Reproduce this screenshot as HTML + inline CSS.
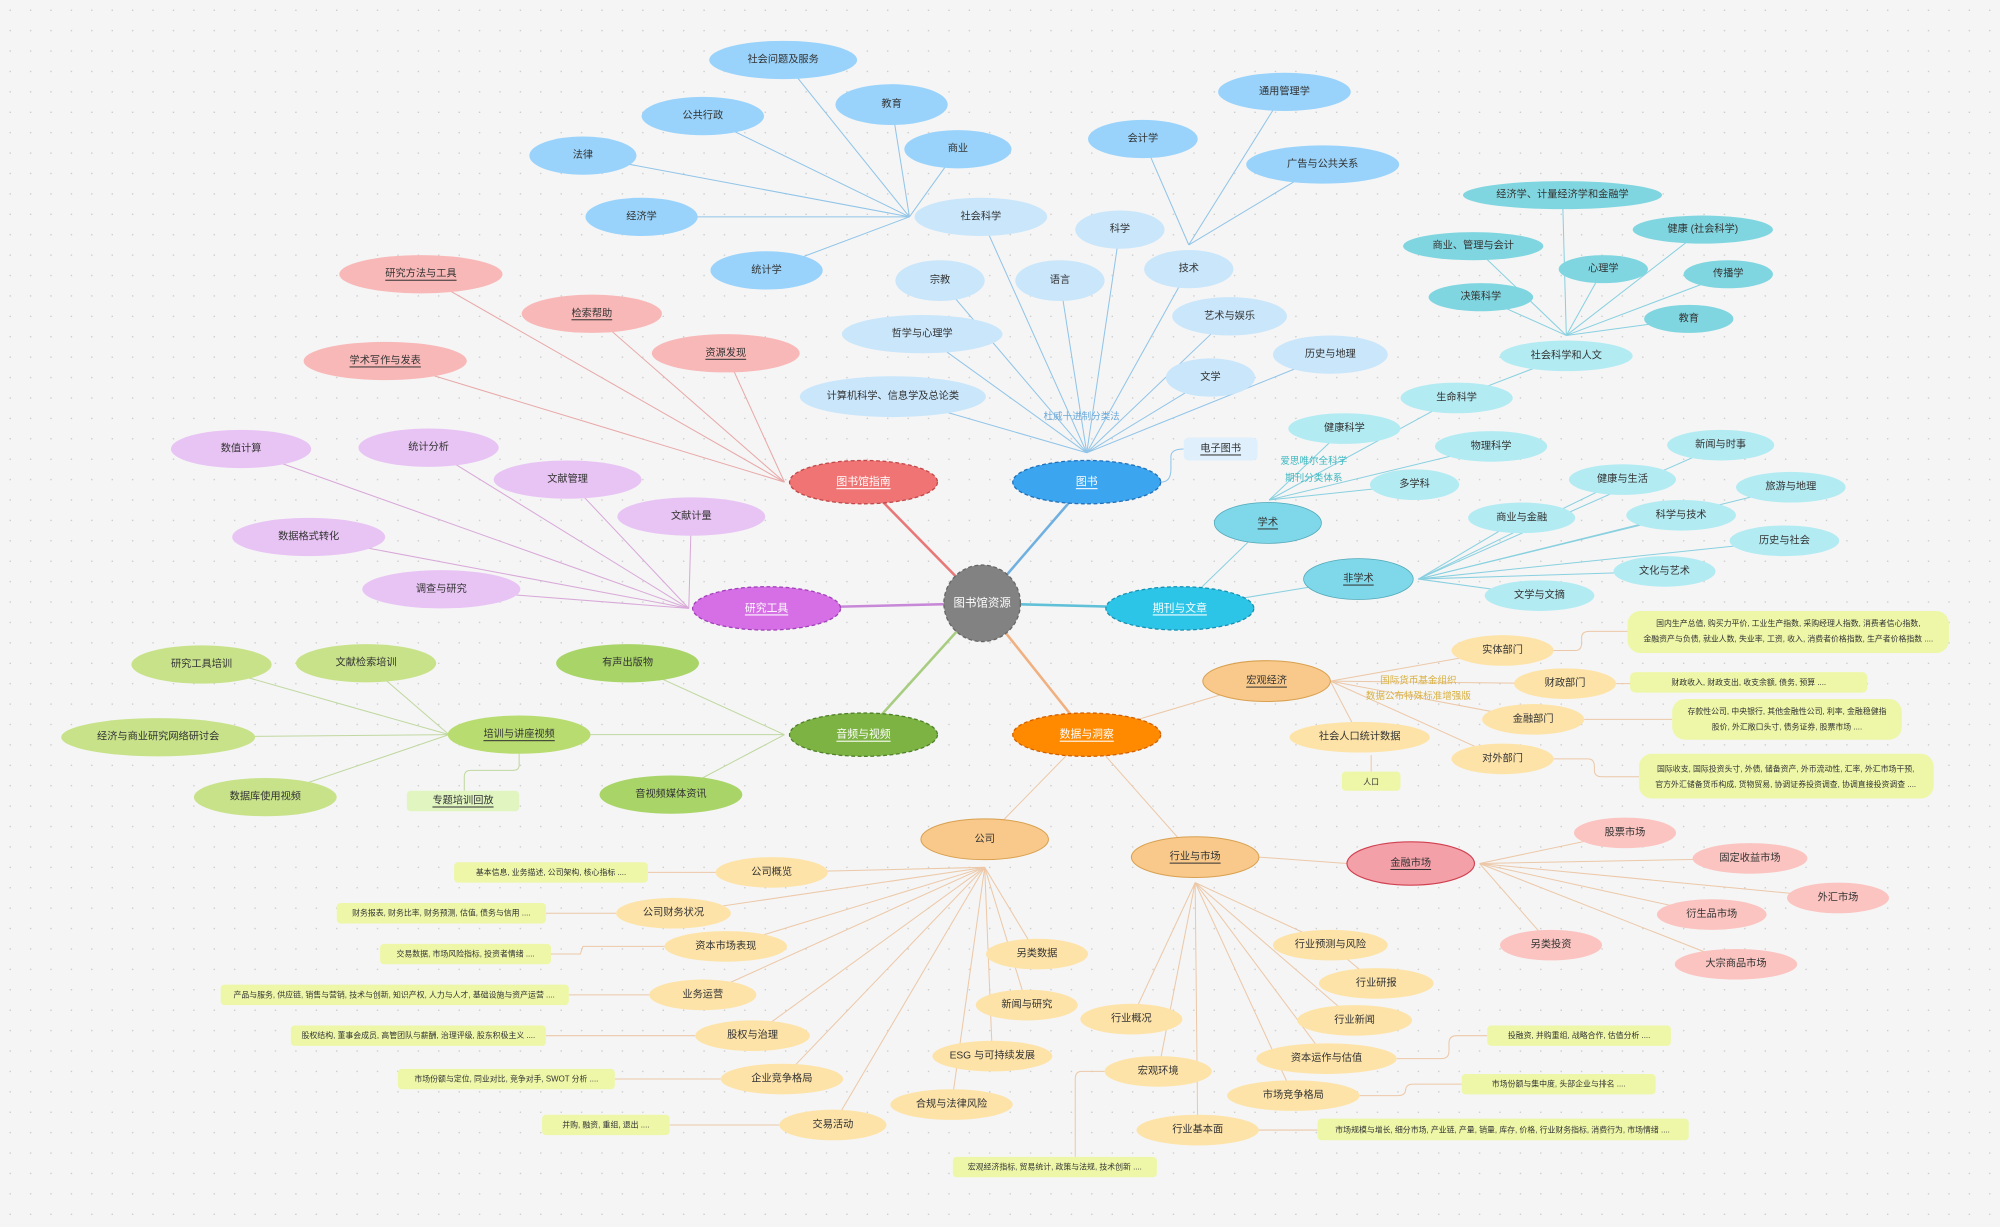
<!DOCTYPE html>
<html><head><meta charset="utf-8">
<style>
html,body{margin:0;padding:0;background:#f5f5f5;}
svg{display:block;}
text{font-family:"Liberation Sans","Noto Sans CJK SC",sans-serif;font-size:8px;fill:#333;text-anchor:middle;dominant-baseline:central;}
.w{fill:#fff;text-decoration:underline;font-size:8.5px;}
.u{text-decoration:underline;}
.s{font-size:6.2px;}
.l{fill:none;stroke-width:0.8;}
</style></head><body>
<svg width="2000" height="1227" viewBox="0 0 1568 962" preserveAspectRatio="none" xmlns="http://www.w3.org/2000/svg">
<defs><pattern id="d" width="16" height="16" patternUnits="userSpaceOnUse"><circle cx="8" cy="8" r="0.6" fill="#c8c8c8"/></pattern></defs>
<rect width="1568" height="962" fill="#f5f5f5"/>
<rect width="1568" height="962" fill="url(#d)"/>

<!-- main edges -->
<g fill="none" stroke-width="2">
<line x1="770" y1="473" x2="677" y2="378" stroke="#e87878"/>
<line x1="770" y1="473" x2="600" y2="477" stroke="#c888d8"/>
<line x1="770" y1="473" x2="852" y2="378" stroke="#70b0e0"/>
<line x1="770" y1="473" x2="925" y2="477" stroke="#60c0d8"/>
<line x1="770" y1="473" x2="852" y2="576" stroke="#f0b080"/>
<line x1="770" y1="473" x2="677" y2="576" stroke="#a8cc80"/>
</g>

<!-- library guide -->
<g class="l" stroke="#e8a8a8">
<line x1="615" y1="378" x2="330" y2="215"/><line x1="615" y1="378" x2="464" y2="246"/><line x1="615" y1="378" x2="569" y2="277"/><line x1="615" y1="378" x2="302" y2="283"/>
</g>
<!-- research tools -->
<g class="l" stroke="#d8a8d8">
<line x1="540" y1="477" x2="189" y2="352"/><line x1="540" y1="477" x2="336" y2="351"/><line x1="540" y1="477" x2="445" y2="376"/><line x1="540" y1="477" x2="542" y2="405"/><line x1="540" y1="477" x2="242" y2="421"/><line x1="540" y1="477" x2="346" y2="462"/>
</g>
<!-- books -->
<g class="l" stroke="#90c4e8">
<line x1="852" y1="355" x2="769" y2="170"/><line x1="852" y1="355" x2="737" y2="220"/><line x1="852" y1="355" x2="831" y2="220"/><line x1="852" y1="355" x2="878" y2="180"/><line x1="852" y1="355" x2="932" y2="211"/><line x1="852" y1="355" x2="723" y2="262"/><line x1="852" y1="355" x2="964" y2="248"/><line x1="852" y1="355" x2="700" y2="311"/><line x1="852" y1="355" x2="949" y2="296"/><line x1="852" y1="355" x2="1043" y2="278"/>
<line x1="713" y1="170" x2="614" y2="47"/><line x1="713" y1="170" x2="699" y2="82"/><line x1="713" y1="170" x2="551" y2="91"/><line x1="713" y1="170" x2="751" y2="117"/><line x1="713" y1="170" x2="457" y2="122"/><line x1="713" y1="170" x2="503" y2="170"/><line x1="713" y1="170" x2="601" y2="212"/>
<line x1="932" y1="192" x2="896" y2="109"/><line x1="932" y1="192" x2="1007" y2="72"/><line x1="932" y1="192" x2="1037" y2="129"/>
<path d="M910 378 Q918 378 918 368 L918 358 Q918 352 928 352"/>
</g>
<!-- journals -->
<g class="l" stroke="#88d0e0">
<line x1="925" y1="477" x2="994" y2="410"/><line x1="925" y1="477" x2="1065" y2="454"/>
<line x1="995" y1="392" x2="1054" y2="336"/><line x1="995" y1="392" x2="1142" y2="312"/><line x1="995" y1="392" x2="1169" y2="350"/><line x1="995" y1="392" x2="1109" y2="380"/><line x1="1142" y1="312" x2="1228" y2="279"/>
<line x1="1228" y1="263" x2="1225" y2="153"/><line x1="1228" y1="263" x2="1155" y2="193"/><line x1="1228" y1="263" x2="1335" y2="180"/><line x1="1228" y1="263" x2="1257" y2="211"/><line x1="1228" y1="263" x2="1355" y2="215"/><line x1="1228" y1="263" x2="1161" y2="233"/><line x1="1228" y1="263" x2="1324" y2="250"/>
<line x1="1112" y1="454" x2="1349" y2="349"/><line x1="1112" y1="454" x2="1272" y2="376"/><line x1="1112" y1="454" x2="1404" y2="382"/><line x1="1112" y1="454" x2="1193" y2="406"/><line x1="1112" y1="454" x2="1318" y2="404"/><line x1="1112" y1="454" x2="1399" y2="424"/><line x1="1112" y1="454" x2="1305" y2="448"/><line x1="1112" y1="454" x2="1207" y2="467"/>
</g>
<!-- data & insight -->
<g class="l" stroke="#ecc8a8">
<line x1="852" y1="576" x2="993" y2="534"/><line x1="852" y1="576" x2="937" y2="672"/><line x1="852" y1="576" x2="772" y2="658"/>
<line x1="1043" y1="534" x2="1178" y2="510"/><line x1="1043" y1="534" x2="1227" y2="536"/><line x1="1043" y1="534" x2="1202" y2="564"/><line x1="1043" y1="534" x2="1178" y2="595"/><line x1="1043" y1="534" x2="1066" y2="578"/>
<line x1="1075" y1="592" x2="1075" y2="605"/>
<path d="M1218 510 L1235 510 Q1240 510 1240 504 L1240 500 Q1240 495 1246 495 L1276 495"/>
<path d="M1267 536 L1280 536 Q1285 536 1285 532 Q1285 535 1290 535 L1278 535"/>
<line x1="1242" y1="564" x2="1311" y2="564"/>
<path d="M1218 595 L1245 595 Q1250 595 1250 601 L1250 604 Q1250 609 1256 609 L1285 609"/>
<line x1="987" y1="672" x2="1056" y2="677"/>
<line x1="1160" y1="677" x2="1274" y2="653"/><line x1="1160" y1="677" x2="1372" y2="673"/><line x1="1160" y1="677" x2="1441" y2="704"/><line x1="1160" y1="677" x2="1342" y2="717"/><line x1="1160" y1="677" x2="1216" y2="741"/><line x1="1160" y1="677" x2="1361" y2="756"/>
<line x1="937" y1="692" x2="1043" y2="741"/><line x1="1043" y1="741" x2="1079" y2="771"/><line x1="937" y1="692" x2="887" y2="799"/><line x1="937" y1="692" x2="1062" y2="800"/><line x1="937" y1="692" x2="1040" y2="830"/><line x1="937" y1="692" x2="908" y2="840"/><line x1="937" y1="692" x2="1014" y2="859"/><line x1="937" y1="692" x2="939" y2="886"/>
<path d="M1095 830 L1130 830 Q1136 830 1136 824 L1136 818 Q1136 812 1142 812 L1166 812"/>
<path d="M1066 859 L1096 859 Q1102 859 1102 854 L1102 855 Q1102 850 1108 850 L1146 850"/>
<line x1="987" y1="886" x2="1033" y2="886"/>
<path d="M866 840 L848 840 Q843 840 843 846 L843 907"/>
<line x1="772" y1="680" x2="605" y2="684"/><line x1="772" y1="680" x2="528" y2="716"/><line x1="772" y1="680" x2="569" y2="742"/><line x1="772" y1="680" x2="551" y2="780"/><line x1="772" y1="680" x2="590" y2="812"/><line x1="772" y1="680" x2="613" y2="846"/><line x1="772" y1="680" x2="653" y2="882"/><line x1="772" y1="680" x2="813" y2="748"/><line x1="772" y1="680" x2="805" y2="788"/><line x1="772" y1="680" x2="778" y2="828"/><line x1="772" y1="680" x2="746" y2="866"/>
<line x1="508" y1="684" x2="561" y2="684"/><line x1="428" y1="716" x2="483" y2="716"/><path d="M432 748 L455 748 L457 742 L521 742"/><line x1="446" y1="780" x2="509" y2="780"/><line x1="428" y1="812" x2="545" y2="812"/><line x1="482" y1="846" x2="565" y2="846"/><line x1="525" y1="882" x2="611" y2="882"/>
</g>
<!-- audio video -->
<g class="l" stroke="#c0d8a0">
<line x1="615" y1="576" x2="492" y2="520"/><line x1="615" y1="576" x2="407" y2="576"/><line x1="615" y1="576" x2="526" y2="623"/>
<line x1="352" y1="576" x2="158" y2="521"/><line x1="352" y1="576" x2="287" y2="520"/><line x1="352" y1="576" x2="124" y2="578"/><line x1="352" y1="576" x2="208" y2="625"/>
<path d="M407 591 L407 600 Q407 604 402 604 L369 604 Q364 604 364 609 L364 620"/>
</g>

<!-- labels on edges -->
<text x="848" y="327" style="fill:#6aa8d8;font-size:7.5px">杜威十进制分类法</text>
<text x="1030" y="362" style="fill:#3cb8c0;font-size:7.5px">爱思唯尔全科学</text>
<text x="1030" y="375" style="fill:#3cb8c0;font-size:7.5px">期刊分类体系</text>
<text x="1112" y="534" style="fill:#d8b040;font-size:7.5px">国际货币基金组织</text>
<text x="1112" y="546" style="fill:#d8b040;font-size:7.5px">数据公布特殊标准增强版</text>

<!-- center -->
<circle cx="770" cy="473" r="30" fill="#828282" stroke="#666" stroke-dasharray="3 2"/>
<text x="770" y="473" style="fill:#fff;font-size:9px">图书馆资源</text>

<!-- level1 -->
<g stroke-dasharray="3 2" stroke-width="1">
<ellipse cx="677" cy="378" rx="58" ry="17" fill="#f07474" stroke="#c04848"/>
<ellipse cx="601" cy="477" rx="58" ry="17" fill="#d66ee6" stroke="#a040b8"/>
<ellipse cx="852" cy="378" rx="58" ry="17" fill="#3ba5f0" stroke="#2070b8"/>
<ellipse cx="925" cy="477" rx="58" ry="17" fill="#2cc5e8" stroke="#1890b0"/>
<ellipse cx="852" cy="576" rx="58" ry="17" fill="#ff8a00" stroke="#d06000"/>
<ellipse cx="677" cy="576" rx="58" ry="17" fill="#7cb342" stroke="#50802a"/>
</g>
<text class="w" x="677" y="378">图书馆指南</text>
<text class="w" x="601" y="477">研究工具</text>
<text class="w" x="852" y="378">图书</text>
<text class="w" x="925" y="477">期刊与文章</text>
<text class="w" x="852" y="576">数据与洞察</text>
<text class="w" x="677" y="576">音频与视频</text>

<!-- library guide children -->
<g fill="#f9b8b8">
<ellipse cx="330" cy="215" rx="64" ry="15"/><ellipse cx="464" cy="246" rx="55" ry="15"/><ellipse cx="569" cy="277" rx="58" ry="15"/><ellipse cx="302" cy="283" rx="64" ry="15"/>
</g>
<text class="u" x="330" y="215">研究方法与工具</text><text class="u" x="464" y="246">检索帮助</text><text class="u" x="569" y="277">资源发现</text><text class="u" x="302" y="283">学术写作与发表</text>

<!-- research tools children -->
<g fill="#e8c4f4">
<ellipse cx="189" cy="352" rx="55" ry="15"/><ellipse cx="336" cy="351" rx="55" ry="15"/><ellipse cx="445" cy="376" rx="58" ry="15"/><ellipse cx="542" cy="405" rx="58" ry="15"/><ellipse cx="242" cy="421" rx="60" ry="15"/><ellipse cx="346" cy="462" rx="62" ry="15"/>
</g>
<text x="189" y="352">数值计算</text><text x="336" y="351">统计分析</text><text x="445" y="376">文献管理</text><text x="542" y="405">文献计量</text><text x="242" y="421">数据格式转化</text><text x="346" y="462">调查与研究</text>

<!-- books children -->
<g fill="#c9e6fb">
<ellipse cx="769" cy="170" rx="52" ry="15"/><ellipse cx="737" cy="220" rx="35" ry="16"/><ellipse cx="831" cy="220" rx="35" ry="16"/><ellipse cx="878" cy="180" rx="35" ry="15"/><ellipse cx="932" cy="211" rx="35" ry="15"/><ellipse cx="723" cy="262" rx="63" ry="15"/><ellipse cx="964" cy="248" rx="45" ry="15"/><ellipse cx="700" cy="311" rx="73" ry="16"/><ellipse cx="949" cy="296" rx="35" ry="15"/><ellipse cx="1043" cy="278" rx="45" ry="15"/>
</g>
<text x="769" y="170">社会科学</text><text x="737" y="220">宗教</text><text x="831" y="220">语言</text><text x="878" y="180">科学</text><text x="932" y="211">技术</text><text x="723" y="262">哲学与心理学</text><text x="964" y="248">艺术与娱乐</text><text x="700" y="311">计算机科学、信息学及总论类</text><text x="949" y="296">文学</text><text x="1043" y="278">历史与地理</text>
<g fill="#99d3fb">
<ellipse cx="614" cy="47" rx="58" ry="15"/><ellipse cx="699" cy="82" rx="44" ry="16"/><ellipse cx="551" cy="91" rx="48" ry="15"/><ellipse cx="751" cy="117" rx="42" ry="15"/><ellipse cx="457" cy="122" rx="42" ry="15"/><ellipse cx="503" cy="170" rx="44" ry="15"/><ellipse cx="601" cy="212" rx="44" ry="15"/>
<ellipse cx="896" cy="109" rx="43" ry="15"/><ellipse cx="1007" cy="72" rx="52" ry="15"/><ellipse cx="1037" cy="129" rx="60" ry="15"/>
</g>
<text x="614" y="47">社会问题及服务</text><text x="699" y="82">教育</text><text x="551" y="91">公共行政</text><text x="751" y="117">商业</text><text x="457" y="122">法律</text><text x="503" y="170">经济学</text><text x="601" y="212">统计学</text><text x="896" y="109">会计学</text><text x="1007" y="72">通用管理学</text><text x="1037" y="129">广告与公共关系</text>
<rect x="928" y="343" width="58" height="18" rx="4" fill="#dff0fc"/><text class="u" x="957" y="352">电子图书</text>

<!-- journals children -->
<ellipse cx="994" cy="410" rx="42" ry="16" fill="#7fd8ea" stroke="#50a8b8" stroke-width="0.6"/><text class="u" x="994" y="410">学术</text>
<ellipse cx="1065" cy="454" rx="43" ry="16" fill="#7fd8ea" stroke="#50a8b8" stroke-width="0.6"/><text class="u" x="1065" y="454">非学术</text>
<g fill="#b3ebf3">
<ellipse cx="1054" cy="336" rx="44" ry="12"/><ellipse cx="1142" cy="312" rx="44" ry="12"/><ellipse cx="1169" cy="350" rx="44" ry="12"/><ellipse cx="1109" cy="380" rx="35" ry="12"/><ellipse cx="1228" cy="279" rx="52" ry="12"/>
<ellipse cx="1349" cy="349" rx="42" ry="12"/><ellipse cx="1272" cy="376" rx="42" ry="12"/><ellipse cx="1404" cy="382" rx="43" ry="12"/><ellipse cx="1193" cy="406" rx="42" ry="12"/><ellipse cx="1318" cy="404" rx="43" ry="12"/><ellipse cx="1399" cy="424" rx="43" ry="12"/><ellipse cx="1305" cy="448" rx="40" ry="12"/><ellipse cx="1207" cy="467" rx="43" ry="12"/>
</g>
<text x="1054" y="336">健康科学</text><text x="1142" y="312">生命科学</text><text x="1169" y="350">物理科学</text><text x="1109" y="380">多学科</text><text x="1228" y="279">社会科学和人文</text>
<text x="1349" y="349">新闻与时事</text><text x="1272" y="376">健康与生活</text><text x="1404" y="382">旅游与地理</text><text x="1193" y="406">商业与金融</text><text x="1318" y="404">科学与技术</text><text x="1399" y="424">历史与社会</text><text x="1305" y="448">文化与艺术</text><text x="1207" y="467">文学与文摘</text>
<g fill="#80d6e0">
<ellipse cx="1225" cy="153" rx="78" ry="11"/><ellipse cx="1155" cy="193" rx="55" ry="11"/><ellipse cx="1335" cy="180" rx="55" ry="11"/><ellipse cx="1257" cy="211" rx="35" ry="11"/><ellipse cx="1355" cy="215" rx="35" ry="11"/><ellipse cx="1161" cy="233" rx="41" ry="11"/><ellipse cx="1324" cy="250" rx="35" ry="11"/>
</g>
<text x="1225" y="153">经济学、计量经济学和金融学</text><text x="1155" y="193">商业、管理与会计</text><text x="1335" y="180">健康 (社会科学)</text><text x="1257" y="211">心理学</text><text x="1355" y="215">传播学</text><text x="1161" y="233">决策科学</text><text x="1324" y="250">教育</text>

<!-- data: macro -->
<ellipse cx="993" cy="534" rx="50" ry="16" fill="#f8c98a" stroke="#d9a050" stroke-width="0.8"/><text class="u" x="993" y="534">宏观经济</text>
<ellipse cx="937" cy="672" rx="50" ry="16" fill="#f8c98a" stroke="#d9a050" stroke-width="0.8"/><text class="u" x="937" y="672">行业与市场</text>
<ellipse cx="772" cy="658" rx="50" ry="16" fill="#f8c98a" stroke="#d9a050" stroke-width="0.8"/><text x="772" y="658">公司</text>
<ellipse cx="1106" cy="677" rx="50" ry="17" fill="#f4a0a8" stroke="#d04050" stroke-width="0.9"/><text class="u" x="1106" y="677">金融市场</text>
<g fill="#fde3a8">
<ellipse cx="1178" cy="510" rx="40" ry="12"/><ellipse cx="1227" cy="536" rx="40" ry="12"/><ellipse cx="1202" cy="564" rx="40" ry="12"/><ellipse cx="1178" cy="595" rx="40" ry="12"/><ellipse cx="1066" cy="578" rx="55" ry="12"/>
<ellipse cx="1043" cy="741" rx="45" ry="12"/><ellipse cx="1079" cy="771" rx="45" ry="12"/><ellipse cx="887" cy="799" rx="40" ry="12"/><ellipse cx="1062" cy="800" rx="45" ry="12"/><ellipse cx="1040" cy="830" rx="55" ry="12"/><ellipse cx="908" cy="840" rx="42" ry="12"/><ellipse cx="1014" cy="859" rx="52" ry="12"/><ellipse cx="939" cy="886" rx="48" ry="12"/>
<ellipse cx="605" cy="684" rx="44" ry="12"/><ellipse cx="528" cy="716" rx="45" ry="12"/><ellipse cx="569" cy="742" rx="48" ry="12"/><ellipse cx="551" cy="780" rx="42" ry="12"/><ellipse cx="590" cy="812" rx="45" ry="12"/><ellipse cx="613" cy="846" rx="48" ry="12"/><ellipse cx="653" cy="882" rx="42" ry="12"/><ellipse cx="813" cy="748" rx="40" ry="12"/><ellipse cx="805" cy="788" rx="40" ry="12"/><ellipse cx="778" cy="828" rx="47" ry="12"/><ellipse cx="746" cy="866" rx="48" ry="12"/>
</g>
<text x="1178" y="510">实体部门</text><text x="1227" y="536">财政部门</text><text x="1202" y="564">金融部门</text><text x="1178" y="595">对外部门</text><text x="1066" y="578">社会人口统计数据</text>
<text x="1043" y="741">行业预测与风险</text><text x="1079" y="771">行业研报</text><text x="887" y="799">行业概况</text><text x="1062" y="800">行业新闻</text><text x="1040" y="830">资本运作与估值</text><text x="908" y="840">宏观环境</text><text x="1014" y="859">市场竞争格局</text><text x="939" y="886">行业基本面</text>
<text x="605" y="684">公司概览</text><text x="528" y="716">公司财务状况</text><text x="569" y="742">资本市场表现</text><text x="551" y="780">业务运营</text><text x="590" y="812">股权与治理</text><text x="613" y="846">企业竞争格局</text><text x="653" y="882">交易活动</text><text x="813" y="748">另类数据</text><text x="805" y="788">新闻与研究</text><text x="778" y="828">ESG 与可持续发展</text><text x="746" y="866">合规与法律风险</text>
<g fill="#fbc4c0">
<ellipse cx="1274" cy="653" rx="40" ry="12"/><ellipse cx="1372" cy="673" rx="45" ry="12"/><ellipse cx="1441" cy="704" rx="40" ry="12"/><ellipse cx="1342" cy="717" rx="43" ry="12"/><ellipse cx="1216" cy="741" rx="40" ry="12"/><ellipse cx="1361" cy="756" rx="48" ry="12"/>
</g>
<text x="1274" y="653">股票市场</text><text x="1372" y="673">固定收益市场</text><text x="1441" y="704">外汇市场</text><text x="1342" y="717">衍生品市场</text><text x="1216" y="741">另类投资</text><text x="1361" y="756">大宗商品市场</text>

<!-- green boxes -->
<g fill="#eef7a8">
<rect x="1276" y="479" width="252" height="33" rx="10"/><rect x="1278" y="527" width="186" height="16" rx="4"/><rect x="1311" y="548" width="180" height="32" rx="10"/><rect x="1285" y="591" width="231" height="35" rx="10"/>
<rect x="1052" y="605" width="46" height="15" rx="3"/>
<rect x="1166" y="804" width="144" height="16" rx="3"/><rect x="1146" y="842" width="152" height="16" rx="3"/><rect x="1033" y="877" width="291" height="17" rx="3"/><rect x="747" y="907" width="160" height="16" rx="3"/>
<rect x="356" y="676" width="152" height="16" rx="3"/><rect x="264" y="708" width="164" height="16" rx="3"/><rect x="298" y="740" width="134" height="16" rx="3"/><rect x="173" y="772" width="273" height="16" rx="3"/><rect x="228" y="804" width="200" height="16" rx="3"/><rect x="312" y="838" width="170" height="16" rx="3"/><rect x="425" y="874" width="100" height="16" rx="3"/>
</g>
<g class="s">
<text class="s" x="1402" y="489">国内生产总值, 购买力平价, 工业生产指数, 采购经理人指数, 消费者信心指数,</text>
<text class="s" x="1402" y="501">金融资产与负债, 就业人数, 失业率, 工资, 收入, 消费者价格指数, 生产者价格指数 ....</text>
<text class="s" x="1371" y="535">财政收入, 财政支出, 收支余额, 债务, 预算 ....</text>
<text class="s" x="1401" y="558">存款性公司, 中央银行, 其他金融性公司, 利率, 金融稳健指</text>
<text class="s" x="1401" y="570">股价, 外汇敞口头寸, 债务证券, 股票市场 ....</text>
<text class="s" x="1400" y="603">国际收支, 国际投资头寸, 外债, 储备资产, 外币流动性, 汇率, 外汇市场干预,</text>
<text class="s" x="1400" y="615">官方外汇储备货币构成, 货物贸易, 协调证券投资调查, 协调直接投资调查 ....</text>
<text class="s" x="1075" y="613">人口</text>
<text class="s" x="1238" y="812">投融资, 并购重组, 战略合作, 估值分析 ....</text>
<text class="s" x="1222" y="850">市场份额与集中度, 头部企业与排名 ....</text>
<text class="s" x="1178" y="886">市场规模与增长, 细分市场, 产业链, 产量, 销量, 库存, 价格, 行业财务指标, 消费行为, 市场情绪 ....</text>
<text class="s" x="827" y="915">宏观经济指标, 贸易统计, 政策与法规, 技术创新 ....</text>
<text class="s" x="432" y="684">基本信息, 业务描述, 公司架构, 核心指标 ....</text>
<text class="s" x="346" y="716">财务报表, 财务比率, 财务预测, 估值, 债务与信用 ....</text>
<text class="s" x="365" y="748">交易数据, 市场风险指标, 投资者情绪 ....</text>
<text class="s" x="309" y="780">产品与服务, 供应链, 销售与营销, 技术与创新, 知识产权, 人力与人才, 基础设施与资产运营 ....</text>
<text class="s" x="328" y="812">股权结构, 董事会成员, 高管团队与薪酬, 治理评级, 股东积极主义 ....</text>
<text class="s" x="397" y="846">市场份额与定位, 同业对比, 竞争对手, SWOT 分析 ....</text>
<text class="s" x="475" y="882">并购, 融资, 重组, 退出 ....</text>
</g>

<!-- audio video children -->
<g fill="#a8d468">
<ellipse cx="492" cy="520" rx="56" ry="15"/><ellipse cx="526" cy="623" rx="56" ry="15"/>
</g>
<ellipse cx="407" cy="576" rx="56" ry="15" fill="#b8dc70"/>
<g fill="#c8e28a">
<ellipse cx="158" cy="521" rx="55" ry="15"/><ellipse cx="287" cy="520" rx="55" ry="15"/><ellipse cx="124" cy="578" rx="76" ry="15"/><ellipse cx="208" cy="625" rx="56" ry="15"/>
</g>
<rect x="319" y="620" width="88" height="16" rx="3" fill="#e0f5c0"/>
<text x="492" y="520">有声出版物</text><text x="526" y="623">音视频媒体资讯</text><text class="u" x="407" y="576">培训与讲座视频</text>
<text x="158" y="521">研究工具培训</text><text x="287" y="520">文献检索培训</text><text x="124" y="578">经济与商业研究网络研讨会</text><text x="208" y="625">数据库使用视频</text><text class="u" x="363" y="628">专题培训回放</text>
</svg>
</body></html>
